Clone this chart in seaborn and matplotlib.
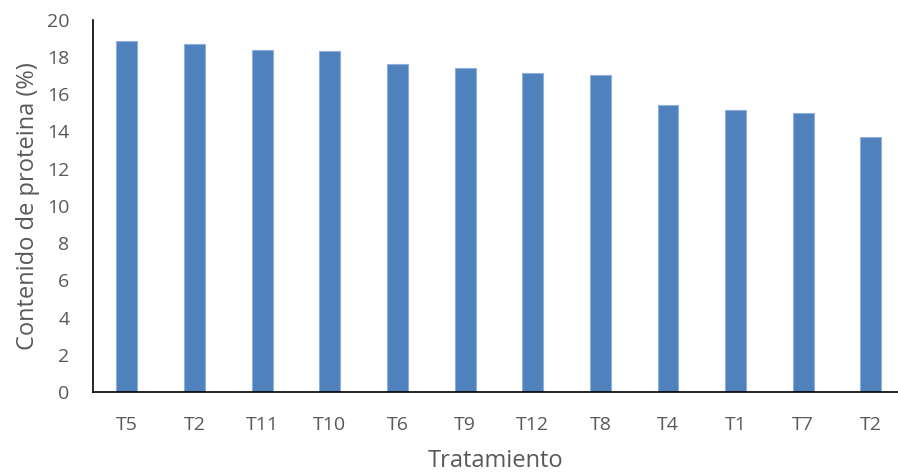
import matplotlib
matplotlib.use("Agg")
import matplotlib.pyplot as plt
import seaborn as sns
import pandas as pd

# Protein content per treatment, sorted from highest to lowest
tratamientos = ["T5", "T2", "T11", "T10", "T6", "T9", "T12", "T8", "T4", "T1", "T7", "T2"]
proteina = [18.85, 18.68, 18.40, 18.34, 17.65, 17.40, 17.15, 17.02, 15.40, 15.16, 14.97, 13.72]
yticks = list(range(0, 21, 2))

df = pd.DataFrame({"pos": range(len(tratamientos)), "proteina": proteina})

sns.set_theme(style="white")
plt.rcParams["font.family"] = ["Open Sans", "DejaVu Sans"]

fig = plt.figure(figsize=(8.98, 4.72), dpi=100)
ax = fig.add_axes([0.1036, 0.1695, 0.8964, 0.7885])

sns.barplot(data=df, x="pos", y="proteina", color="#4F81BD", saturation=1,
            width=0.31, edgecolor="#8EB0DB", linewidth=0.8, ax=ax)

ax.set_ylim(0, 20)
ax.set_xlim(-0.5, len(tratamientos) - 0.6)
ax.set_yticks(yticks)
ax.set_yticklabels([str(v) for v in yticks])
ax.set_xticks(range(len(tratamientos)))
ax.set_xticklabels(tratamientos)

grey = "#595959"
ax.tick_params(axis="both", length=0, labelsize=14, colors=grey)
ax.tick_params(axis="x", pad=17)
ax.tick_params(axis="y", pad=17)
ax.set_xlabel("Tratamiento", fontsize=17, color=grey, labelpad=11)
ax.set_ylabel("Contenido de proteina (%)", fontsize=17, color=grey, labelpad=5)

for side in ["top", "right"]:
    ax.spines[side].set_visible(False)
for side in ["left", "bottom"]:
    ax.spines[side].set_color("black")
    ax.spines[side].set_linewidth(1.2)

fig.savefig("out.png", dpi=100)
